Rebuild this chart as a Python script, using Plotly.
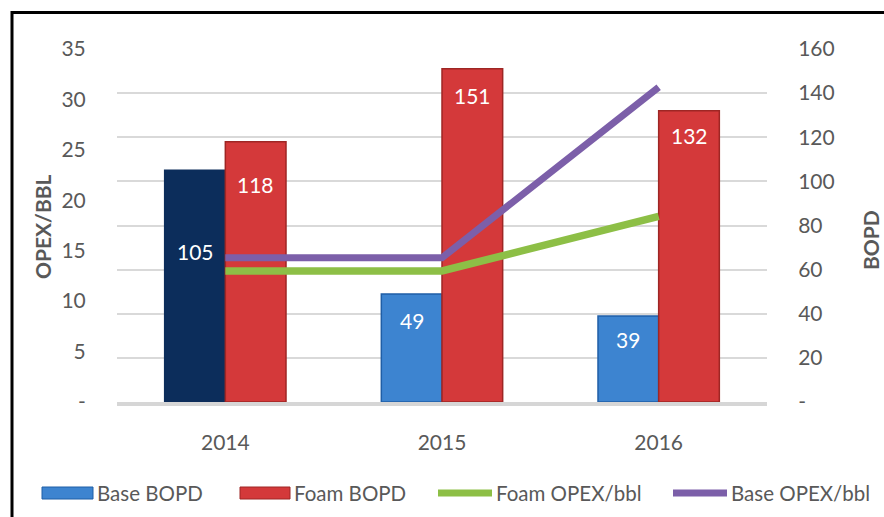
import plotly.graph_objects as go

# --- data ---------------------------------------------------------------
years = ["2014", "2015", "2016"]
base_bopd = [105, 49, 39]
foam_bopd = [118, 151, 132]
foam_opex = [13.0, 13.0, 18.4]
base_opex = [14.3, 14.3, 31.2]

opex_ticks = [0, 5, 10, 15, 20, 25, 30, 35]
opex_ticktext = ["-", "5", "10", "15", "20", "25", "30", "35"]
bopd_ticks = [0, 20, 40, 60, 80, 100, 120, 140, 160]
bopd_ticktext = ["-", "20", "40", "60", "80", "100", "120", "140", "160"]

series_names = ["Base BOPD", "Foam BOPD", "Foam OPEX/bbl", "Base OPEX/bbl"]

# --- style --------------------------------------------------------------
FONT = "Lato"
GREY = "#595959"
NAVY = "#0c2d5b"
BLUE = "#3d84d0"
RED = "#d4393a"
RED_EDGE = "#9e2624"
BLUE_EDGE = "#1f5ea6"
GREEN = "#8dbf46"
PURPLE = "#7c5fa9"

W, H = 884, 517
ML, MR, MT, MB = 117, 117, 49, 115
PW, PH = W - ML - MR, H - MT - MB


def px_x(px):
    return (px - ML) / PW


def px_y(py):
    return (H - MB - py) / PH


BARGAP = 0.44
half = (1 - BARGAP) / 4  # centre offset of each bar in a group

fig = go.Figure()

base_colors = [NAVY] + [BLUE] * (len(years) - 1)
base_edges = [NAVY] + [BLUE_EDGE] * (len(years) - 1)

fig.add_trace(go.Bar(
    x=years, y=base_bopd, name=series_names[0],
    marker=dict(color=base_colors, line=dict(color=base_edges, width=1.5)),
    yaxis="y", showlegend=False,
))
fig.add_trace(go.Bar(
    x=years, y=foam_bopd, name=series_names[1],
    marker=dict(color=RED, line=dict(color=RED_EDGE, width=1.5)),
    yaxis="y", showlegend=False,
))
fig.add_trace(go.Scatter(
    x=years, y=foam_opex, name=series_names[2], mode="lines",
    line=dict(color=GREEN, width=7.5), yaxis="y2", showlegend=False,
))
fig.add_trace(go.Scatter(
    x=years, y=base_opex, name=series_names[3], mode="lines",
    line=dict(color=PURPLE, width=7), yaxis="y2", showlegend=False,
))

annotations = []
# value labels inside the bars, near their tops
base_shift = [-81, -27, -24]
foam_shift = [-43, -27, -25]
for i, (b, f) in enumerate(zip(base_bopd, foam_bopd)):
    annotations.append(dict(x=i - half, y=b, xref="x", yref="y", text=str(b),
                            showarrow=False, yshift=base_shift[i],
                            font=dict(family=FONT, size=21, color="white")))
    annotations.append(dict(x=i + half, y=f, xref="x", yref="y", text=str(f),
                            showarrow=False, yshift=foam_shift[i],
                            font=dict(family=FONT, size=21, color="white")))

# axis titles
annotations.append(dict(x=px_x(42), y=px_y(227), xref="paper", yref="paper",
                        text="<b>OPEX/BBL</b>", textangle=-90, showarrow=False,
                        xanchor="center", yanchor="middle",
                        font=dict(family=FONT, size=21, color=GREY)))
annotations.append(dict(x=px_x(870), y=px_y(240), xref="paper", yref="paper",
                        text="<b>BOPD</b>", textangle=-90, showarrow=False,
                        xanchor="center", yanchor="middle",
                        font=dict(family=FONT, size=21, color=GREY)))

shapes = []
# frame around the chart
shapes.append(dict(type="rect", xref="paper", yref="paper",
                   x0=px_x(12), x1=px_x(W + 20), y0=px_y(H + 20), y1=px_y(12.5),
                   line=dict(color="black", width=3), fillcolor="rgba(0,0,0,0)",
                   layer="above"))

# legend row
LEG_Y = 493
legend_items = [
    (series_names[0], "bar", BLUE, BLUE_EDGE, 42, 93),
    (series_names[1], "bar", RED, RED_EDGE, 240, 290),
    (series_names[2], "line", GREEN, None, 438, 492),
    (series_names[3], "line", PURPLE, None, 673, 727),
]
for name, kind, col, edge, x0, x1 in legend_items:
    if kind == "bar":
        shapes.append(dict(type="rect", xref="paper", yref="paper",
                           x0=px_x(x0), x1=px_x(x1),
                           y0=px_y(LEG_Y + 6), y1=px_y(LEG_Y - 6),
                           fillcolor=col, line=dict(color=edge, width=1)))
    else:
        shapes.append(dict(type="line", xref="paper", yref="paper",
                           x0=px_x(x0), x1=px_x(x1),
                           y0=px_y(LEG_Y), y1=px_y(LEG_Y),
                           line=dict(color=col, width=7)))
    annotations.append(dict(x=px_x(x1 + 2), y=px_y(LEG_Y), xref="paper",
                            yref="paper", text=name, showarrow=False,
                            xanchor="left", yanchor="middle",
                            font=dict(family=FONT, size=20.5, color=GREY)))

fig.update_layout(
    width=W, height=H,
    margin=dict(l=ML, r=MR, t=MT, b=MB),
    paper_bgcolor="white", plot_bgcolor="white",
    barmode="group", bargap=BARGAP, bargroupgap=0,
    font=dict(family=FONT, color=GREY, size=19),
    xaxis=dict(
        type="category", showgrid=False, zeroline=False,
        showline=True, linecolor="#d6d6d6", linewidth=4,
        ticks="outside", ticklen=19, tickcolor="rgba(0,0,0,0)",
        tickfont=dict(family=FONT, size=21, color=GREY),
    ),
    yaxis=dict(
        side="right", range=[0, 160], tickvals=bopd_ticks,
        ticktext=bopd_ticktext, showgrid=True, gridcolor="#d9d9d9",
        gridwidth=1.5, zeroline=False, showline=False,
        ticks="outside", ticklen=26, tickcolor="rgba(0,0,0,0)",
        tickfont=dict(family=FONT, size=21, color=GREY),
    ),
    yaxis2=dict(
        side="left", overlaying="y", range=[0, 35], tickvals=opex_ticks,
        ticktext=opex_ticktext, showgrid=False, zeroline=False,
        showline=False, ticks="outside", ticklen=26,
        tickcolor="rgba(0,0,0,0)",
        tickfont=dict(family=FONT, size=21, color=GREY),
    ),
    annotations=annotations,
    shapes=shapes,
)

fig.write_html("out.html")
